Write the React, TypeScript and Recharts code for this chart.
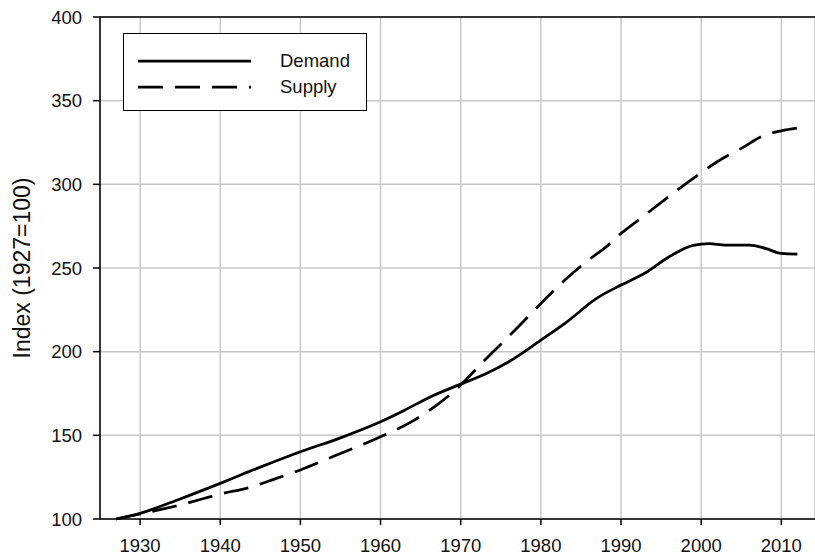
import React from "react";
import {
  LineChart,
  Line,
  XAxis,
  YAxis,
  CartesianGrid,
  Legend,
  ReferenceLine,
} from "recharts";

// values
const demandYears = [
  1927, 1930, 1935, 1940, 1945, 1950, 1955, 1960, 1963, 1966, 1970, 1973,
  1976, 1980, 1983, 1987, 1990, 1993, 1996, 1999, 2001, 2003, 2006, 2008,
  2010, 2012,
];
const demandValues = [
  100, 103.4, 112, 121.3, 131, 140.2, 148.5, 158.1, 165, 172.5, 180.6, 186.5,
  194, 206.9, 216.9, 232, 239.8, 247, 256.7, 263.5, 264.5, 263.7, 263.7, 261.7,
  258.7, 258.3,
];

const supplyYears = [
  1927, 1930, 1935, 1940, 1944, 1947, 1950, 1954, 1957, 1960, 1964, 1967, 1970,
  1972, 1977, 1980, 1983, 1986, 1988, 1990, 1992, 1997, 2000, 2002, 2005, 2008,
  2010, 2012,
];
const supplyValues = [
  100, 103, 108.4, 114.9, 119.3, 124.3, 129.3, 137.2, 143, 149.2, 158.5, 168,
  180, 190, 214, 228.8, 242.8, 255, 262, 270.7, 278, 296.5, 306.9, 313.5, 321.5,
  329.5, 332, 333.6,
];

const xTicks = [1930, 1940, 1950, 1960, 1970, 1980, 1990, 2000, 2010];
const yTicks = [100, 150, 200, 250, 300, 350, 400];
const xDomain = [1925, 2014.2];
const yDomain = [100, 400];

const demandData = demandYears.map((year, i) => ({ year, value: demandValues[i] }));
const supplyData = supplyYears.map((year, i) => ({ year, value: supplyValues[i] }));

const FONT = "'Liberation Sans', Arial, sans-serif";
const DASH = "25 12";

function renderYLabel(props: any) {
  const vb = props.viewBox || {};
  const cx = 22;
  const cy = (vb.y ?? 0) + (vb.height ?? 0) / 2;
  return (
    <text
      x={cx}
      y={cy}
      transform={`rotate(-90 ${cx} ${cy})`}
      textAnchor="middle"
      dominantBaseline="central"
      fontFamily={FONT}
      fontSize={23}
      fill="#111"
    >
      Index (1927=100)
    </text>
  );
}

function renderLegend() {
  const items = [
    { name: "Demand", dash: undefined },
    { name: "Supply", dash: DASH },
  ];
  return (
    <div
      style={{
        boxSizing: "border-box",
        width: 244,
        height: 78,
        border: "1.5px solid #000",
        background: "#fff",
        paddingTop: 14,
      }}
    >
      {items.map((it) => (
        <div
          key={it.name}
          style={{ display: "flex", alignItems: "center", height: 26 }}
        >
          <svg width={128} height={10} style={{ marginLeft: 14 }}>
            <line
              x1={0}
              y1={5}
              x2={113}
              y2={5}
              stroke="#000"
              strokeWidth={2.75}
              strokeDasharray={it.dash}
            />
          </svg>
          <span
            style={{
              marginLeft: 14,
              fontFamily: FONT,
              fontSize: 18.5,
              color: "#111",
            }}
          >
            {it.name}
          </span>
        </div>
      ))}
    </div>
  );
}

export default function App() {
  const tickStyle = { fill: "#111", fontSize: 18.5, fontFamily: FONT };
  return (
    <div style={{ position: "absolute", left: 0, top: 0, width: 815, height: 556, background: "#fff" }}>
      <LineChart
        width={815}
        height={556}
        margin={{ top: 17, right: 0, bottom: 0, left: 0 }}
      >
        <CartesianGrid stroke="#c8c8c8" strokeWidth={1.5} />
        <XAxis
          dataKey="year"
          type="number"
          domain={xDomain}
          ticks={xTicks}
          height={37}
          tick={tickStyle}
          tickSize={6}
          tickMargin={14}
          axisLine={{ stroke: "#000", strokeWidth: 1.5 }}
          tickLine={{ stroke: "#000", strokeWidth: 1.5 }}
          allowDuplicatedCategory={false}
        />
        <YAxis
          type="number"
          domain={yDomain}
          ticks={yTicks}
          width={100}
          tick={tickStyle}
          tickSize={7}
          tickMargin={11}
          axisLine={{ stroke: "#000", strokeWidth: 1.5 }}
          tickLine={{ stroke: "#000", strokeWidth: 1.5 }}
          label={renderYLabel}
        />
        <ReferenceLine y={400} stroke="#000" strokeWidth={1.5} />
        <Legend
          layout="horizontal"
          verticalAlign="middle"
          align="center"
          content={renderLegend}
          wrapperStyle={{ left: 123, top: 33, width: 244, height: 78 }}
        />
        <Line
          data={demandData}
          dataKey="value"
          name="Demand"
          type="monotone"
          stroke="#000"
          strokeWidth={2.75}
          dot={false}
          isAnimationActive={false}
        />
        <Line
          data={supplyData}
          dataKey="value"
          name="Supply"
          type="monotone"
          stroke="#000"
          strokeWidth={2.75}
          strokeDasharray={DASH}
          dot={false}
          isAnimationActive={false}
        />
      </LineChart>
    </div>
  );
}
